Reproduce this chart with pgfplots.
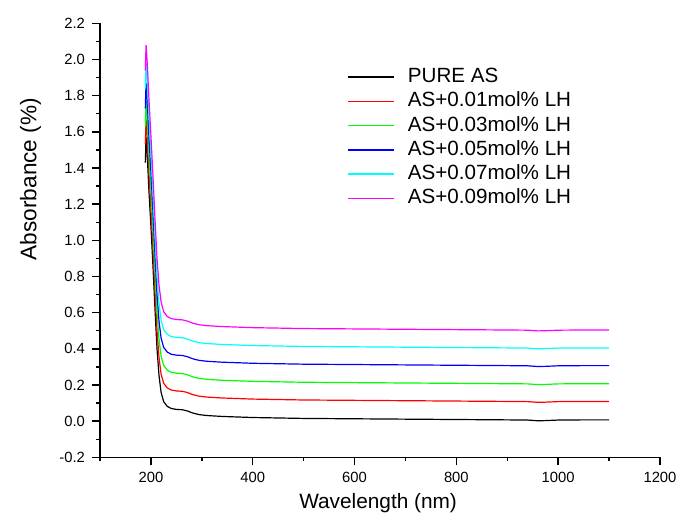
\documentclass[border=0pt]{standalone}
\usepackage{fontspec}
\setmainfont{Liberation Sans}
\usepackage{pgfplots}
\pgfplotsset{compat=1.18}
\definecolor{cRed}{RGB}{255,0,0}
\definecolor{cGreen}{RGB}{0,255,0}
\definecolor{cBlue}{RGB}{0,0,255}
\definecolor{cCyan}{RGB}{0,255,255}
\definecolor{cMagenta}{RGB}{255,0,255}

\begin{document}
\begin{tikzpicture}
\begin{axis}[
  scale only axis,
  width=280pt, height=217pt,
  xmin=100, xmax=1200, ymin=-0.2, ymax=2.2,
  axis lines*=left,
  axis line style={line width=0.7pt},
  tick style={black, line width=0.7pt},
  tick align=outside,
  major tick length=4pt, minor tick length=2pt,
  xtick={200,400,600,800,1000,1200},
  minor xtick={100,300,500,700,900,1100},
  ytick={-0.2,0,0.2,0.4,0.6,0.8,1.0,1.2,1.4,1.6,1.8,2.0,2.2},
  minor ytick={-0.1,0.1,0.3,0.5,0.7,0.9,1.1,1.3,1.5,1.7,1.9,2.1},
  /pgf/number format/assume math mode=true,
  x tick label style={/pgf/number format/1000 sep={}},
  y tick label style={/pgf/number format/.cd, fixed, fixed zerofill, precision=1},
  ticklabel style={font=\fontsize{7.4}{8.5}\selectfont},
  xlabel={Wavelength (nm)},
  ylabel={Absorbance (\%)},
  xlabel style={font=\fontsize{10.4}{13}\selectfont, at={(axis description cs:0.4966,-0.105)}, anchor=center},
  ylabel style={font=\fontsize{11.3}{13}\selectfont, at={(axis description cs:-0.124,0.641)}, anchor=center},
  legend cell align=left,
  legend style={draw=none, fill=none, inner sep=0pt,
    at={(axis description cs:0.441,0.8993)}, anchor=north west,
    font=\fontsize{10.3}{12}\selectfont, row sep=2.65pt,
    nodes={inner sep=0pt, text height=7.5pt, text depth=2pt},
    /tikz/every odd column/.append style={column sep=6.6pt}},
  legend image code/.code={\draw[#1, line width=0.7pt] (0pt,0pt) -- (23pt,0pt);},
  every axis plot/.append style={line width=0.6pt},
]
\addplot[black] table {
189 1.43
190.5 1.57
193 1.46
196 1.28
200 1.08
204 0.86
208 0.62
212 0.40
216 0.25
220 0.16
225 0.108
232 0.082
240 0.070
250 0.065
262 0.063
272 0.056
282 0.045
295 0.036
310 0.031
340 0.026
400 0.020
500 0.015
600 0.013
700 0.011
800 0.009
900 0.007
940 0.006
960 0.002
975 0.003
1000 0.006
1050 0.007
1100 0.007
};
\addlegendentry{PURE AS}
\addplot[cRed] table {
189 1.53
190.5 1.67
193 1.56
196 1.38
200 1.18
204 0.96
208 0.72
212 0.50
216 0.35
220 0.26
225 0.210
232 0.184
240 0.172
250 0.167
262 0.165
272 0.158
282 0.147
295 0.138
310 0.133
340 0.128
400 0.122
500 0.117
600 0.115
700 0.113
800 0.111
900 0.109
940 0.108
960 0.104
975 0.105
1000 0.108
1050 0.109
1100 0.109
};
\addlegendentry{AS+0.01mol\% LH}
\addplot[cGreen] table {
189 1.63
190.5 1.77
193 1.66
196 1.48
200 1.28
204 1.06
208 0.82
212 0.60
216 0.45
220 0.36
225 0.308
232 0.282
240 0.270
250 0.265
262 0.263
272 0.256
282 0.245
295 0.236
310 0.231
340 0.226
400 0.220
500 0.215
600 0.213
700 0.211
800 0.209
900 0.207
940 0.206
960 0.202
975 0.203
1000 0.206
1050 0.207
1100 0.207
};
\addlegendentry{AS+0.03mol\% LH}
\addplot[cBlue] table {
189 1.73
190.5 1.87
193 1.76
196 1.58
200 1.38
204 1.16
208 0.92
212 0.70
216 0.55
220 0.46
225 0.408
232 0.382
240 0.370
250 0.365
262 0.363
272 0.356
282 0.345
295 0.336
310 0.331
340 0.326
400 0.320
500 0.315
600 0.313
700 0.311
800 0.309
900 0.307
940 0.306
960 0.302
975 0.303
1000 0.306
1050 0.307
1100 0.307
};
\addlegendentry{AS+0.05mol\% LH}
\addplot[cCyan] table {
189 1.84
190.5 1.98
193 1.87
196 1.69
200 1.48
204 1.26
208 1.02
212 0.80
216 0.65
220 0.56
225 0.506
232 0.480
240 0.468
250 0.463
262 0.461
272 0.454
282 0.443
295 0.434
310 0.429
340 0.424
400 0.418
500 0.413
600 0.411
700 0.409
800 0.407
900 0.405
940 0.404
960 0.400
975 0.401
1000 0.404
1050 0.405
1100 0.405
};
\addlegendentry{AS+0.07mol\% LH}
\addplot[cMagenta] table {
189 1.94
190.5 2.08
193 1.97
196 1.79
200 1.58
204 1.36
208 1.12
212 0.90
216 0.75
220 0.66
225 0.605
232 0.579
240 0.567
250 0.562
262 0.560
272 0.553
282 0.542
295 0.533
310 0.528
340 0.523
400 0.517
500 0.512
600 0.510
700 0.508
800 0.506
900 0.504
940 0.503
960 0.499
975 0.500
1000 0.503
1050 0.504
1100 0.504
};
\addlegendentry{AS+0.09mol\% LH}
\coordinate (ll) at (rel axis cs:0,0);
\coordinate (ur) at (rel axis cs:1,1);
\end{axis}
\pgfresetboundingbox
\path[use as bounding box] ([shift={(-50pt,-31.85pt)}]ll) rectangle ([shift={(10pt,11.65pt)}]ur);
\end{tikzpicture}
\end{document}
